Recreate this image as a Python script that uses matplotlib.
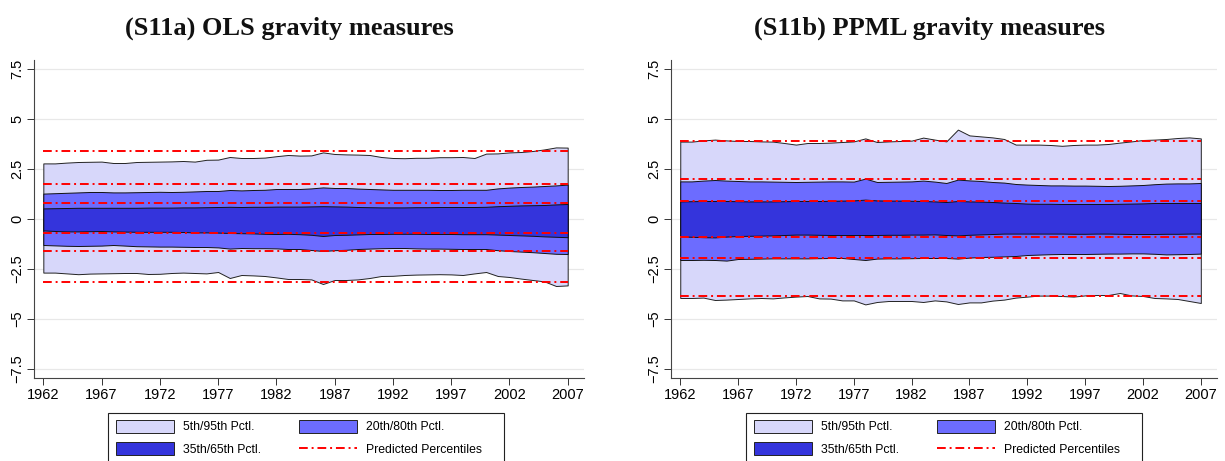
import matplotlib
matplotlib.use('Agg')
import matplotlib.pyplot as plt
from matplotlib.patches import Patch, Rectangle
from matplotlib.lines import Line2D

years = list(range(1962, 2008))

# OLS gravity measures: percentile boundaries
ols_p95 = [2.78, 2.78, 2.82, 2.85, 2.86, 2.87, 2.80, 2.80, 2.85, 2.86,
           2.87, 2.88, 2.90, 2.87, 2.96, 2.97, 3.10, 3.05, 3.05, 3.07,
           3.14, 3.20, 3.17, 3.18, 3.33, 3.25, 3.23, 3.22, 3.20, 3.10,
           3.05, 3.04, 3.06, 3.06, 3.09, 3.09, 3.10, 3.05, 3.27, 3.28,
           3.33, 3.35, 3.40, 3.48, 3.58, 3.57]
ols_p80 = [1.27, 1.29, 1.31, 1.33, 1.35, 1.35, 1.33, 1.33, 1.34, 1.35,
           1.36, 1.35, 1.36, 1.38, 1.40, 1.40, 1.45, 1.43, 1.45, 1.46,
           1.50, 1.50, 1.50, 1.53, 1.58, 1.55, 1.55, 1.52, 1.50, 1.48,
           1.46, 1.46, 1.46, 1.46, 1.45, 1.45, 1.46, 1.46, 1.46, 1.53,
           1.57, 1.60, 1.62, 1.65, 1.68, 1.72]
ols_p65 = [0.53, 0.54, 0.55, 0.56, 0.56, 0.56, 0.56, 0.56, 0.56, 0.57,
           0.57, 0.57, 0.58, 0.58, 0.59, 0.60, 0.61, 0.60, 0.61, 0.61,
           0.62, 0.62, 0.62, 0.63, 0.64, 0.63, 0.62, 0.60, 0.59, 0.58,
           0.58, 0.58, 0.59, 0.59, 0.60, 0.60, 0.60, 0.60, 0.61, 0.64,
           0.66, 0.68, 0.69, 0.70, 0.73, 0.75]
ols_p35 = [-0.57, -0.60, -0.62, -0.62, -0.61, -0.60, -0.62, -0.63, -0.64, -0.64,
           -0.64, -0.64, -0.65, -0.67, -0.67, -0.68, -0.70, -0.71, -0.72, -0.74,
           -0.75, -0.74, -0.76, -0.79, -0.85, -0.80, -0.79, -0.77, -0.75, -0.75,
           -0.74, -0.74, -0.74, -0.75, -0.75, -0.75, -0.76, -0.76, -0.76, -0.78,
           -0.80, -0.82, -0.84, -0.87, -0.89, -0.91]
ols_p20 = [-1.30, -1.32, -1.34, -1.35, -1.34, -1.33, -1.30, -1.33, -1.36, -1.37,
           -1.38, -1.38, -1.39, -1.40, -1.40, -1.42, -1.48, -1.45, -1.46, -1.46,
           -1.47, -1.50, -1.50, -1.55, -1.60, -1.56, -1.54, -1.50, -1.48, -1.46,
           -1.45, -1.45, -1.47, -1.48, -1.48, -1.49, -1.50, -1.50, -1.50, -1.56,
           -1.60, -1.63, -1.66, -1.70, -1.74, -1.75]
ols_p5 = [-2.68, -2.68, -2.72, -2.76, -2.73, -2.72, -2.71, -2.70, -2.70, -2.75,
          -2.74, -2.70, -2.68, -2.70, -2.72, -2.65, -2.95, -2.80, -2.82, -2.85,
          -2.92, -3.00, -3.00, -3.02, -3.25, -3.05, -3.05, -3.02, -2.95, -2.85,
          -2.84, -2.80, -2.78, -2.77, -2.76, -2.77, -2.80, -2.72, -2.65, -2.85,
          -2.90, -2.98, -3.05, -3.12, -3.35, -3.32]
ols_pred = [3.38, 1.73, 0.82, -0.72, -1.60, -3.13]

# PPML gravity measures: percentile boundaries
ppml_p95 = [3.87, 3.87, 3.93, 3.97, 3.93, 3.90, 3.90, 3.88, 3.87, 3.80,
            3.72, 3.80, 3.80, 3.82, 3.85, 3.88, 4.03, 3.85, 3.88, 3.90,
            3.92, 4.07, 3.97, 3.88, 4.47, 4.18, 4.13, 4.08, 4.00, 3.72,
            3.72, 3.72, 3.70, 3.66, 3.70, 3.72, 3.72, 3.75, 3.82, 3.88,
            3.95, 3.97, 4.00, 4.05, 4.08, 4.03]
ppml_p80 = [1.88, 1.88, 1.92, 1.95, 1.92, 1.90, 1.88, 1.88, 1.87, 1.86,
            1.85, 1.86, 1.87, 1.88, 1.88, 1.87, 2.02, 1.85, 1.86, 1.87,
            1.88, 1.92, 1.87, 1.80, 1.97, 1.93, 1.90, 1.85, 1.82, 1.75,
            1.72, 1.70, 1.68, 1.68, 1.67, 1.67, 1.66, 1.65, 1.66, 1.68,
            1.70, 1.74, 1.77, 1.78, 1.78, 1.80]
ppml_p65 = [0.88, 0.89, 0.90, 0.90, 0.90, 0.89, 0.88, 0.88, 0.88, 0.89,
            0.90, 0.90, 0.90, 0.91, 0.92, 0.93, 0.97, 0.93, 0.92, 0.92,
            0.91, 0.90, 0.88, 0.85, 0.90, 0.88, 0.87, 0.85, 0.82, 0.80,
            0.77, 0.76, 0.76, 0.75, 0.75, 0.75, 0.75, 0.75, 0.76, 0.77,
            0.78, 0.80, 0.80, 0.80, 0.80, 0.80]
ppml_p35 = [-0.87, -0.89, -0.91, -0.92, -0.88, -0.85, -0.84, -0.83, -0.82, -0.80,
            -0.78, -0.78, -0.79, -0.80, -0.80, -0.80, -0.80, -0.80, -0.79, -0.79,
            -0.78, -0.78, -0.77, -0.80, -0.82, -0.79, -0.77, -0.75, -0.73, -0.73,
            -0.73, -0.73, -0.73, -0.73, -0.74, -0.74, -0.73, -0.73, -0.74, -0.75,
            -0.75, -0.75, -0.74, -0.74, -0.73, -0.73]
ppml_p20 = [-2.05, -2.05, -2.04, -2.05, -2.08, -2.00, -1.99, -1.98, -1.97, -1.97,
            -1.97, -1.97, -1.96, -1.95, -1.95, -2.00, -2.05, -1.98, -1.97, -1.97,
            -1.96, -1.95, -1.95, -1.95, -1.98, -1.93, -1.90, -1.89, -1.87, -1.85,
            -1.80, -1.78, -1.76, -1.75, -1.75, -1.75, -1.74, -1.73, -1.73, -1.72,
            -1.72, -1.74, -1.77, -1.76, -1.75, -1.73]
ppml_p5 = [-3.95, -3.95, -3.93, -4.05, -4.03, -4.00, -3.97, -3.95, -3.97, -3.92,
           -3.88, -3.85, -3.97, -3.98, -4.07, -4.07, -4.27, -4.15, -4.10, -4.10,
           -4.10, -4.15, -4.07, -4.12, -4.25, -4.17, -4.17, -4.08, -4.03, -3.93,
           -3.88, -3.83, -3.83, -3.85, -3.88, -3.82, -3.80, -3.80, -3.70, -3.82,
           -3.85, -3.95, -3.97, -4.00, -4.10, -4.20]
ppml_pred = [3.92, 2.00, 0.92, -0.90, -1.97, -3.83]

titles = ['(S11a) OLS gravity measures', '(S11b) PPML gravity measures']
x_ticks = list(range(1962, 2008, 5))
y_ticks = [-7.5, -5, -2.5, 0, 2.5, 5, 7.5]
y_labels = ['\u22127.5', '\u22125', '\u22122.5', '0', '2.5', '5', '7.5']
band_labels = ['5th/95th Pctl.', '20th/80th Pctl.', '35th/65th Pctl.', 'Predicted Percentiles']

C_LIGHT = '#D7D7FA'
C_MID = '#6C6CFF'
C_DARK = '#3434DC'
C_RED = '#FF0000'
RED_DASH = (4.5, 2.0, 1.0, 2.0)

plt.rcParams['font.family'] = ['Liberation Sans', 'DejaVu Sans']

fig = plt.figure(figsize=(12.25, 4.61), dpi=100)
W, H = 1225.0, 461.0
ax_boxes = [(34, 60, 584, 378), (671, 60, 1217, 378)]
title_x = [289, 930]
legend_left = [108, 746]

panels = [
    (ols_p95, ols_p80, ols_p65, ols_p35, ols_p20, ols_p5, ols_pred),
    (ppml_p95, ppml_p80, ppml_p65, ppml_p35, ppml_p20, ppml_p5, ppml_pred),
]

for i, (p95, p80, p65, p35, p20, p5, pred) in enumerate(panels):
    x0, y0, x1, y1 = ax_boxes[i]
    ax = fig.add_axes([x0 / W, 1 - y1 / H, (x1 - x0) / W, (y1 - y0) / H])
    ax.fill_between(years, p5, p95, facecolor=C_LIGHT, edgecolor='#222222', linewidth=0.7, zorder=2)
    ax.fill_between(years, p20, p80, facecolor=C_MID, edgecolor='#111111', linewidth=0.7, zorder=3)
    ax.fill_between(years, p35, p65, facecolor=C_DARK, edgecolor='#111111', linewidth=0.7, zorder=4)
    for v in pred:
        ax.plot([years[0], years[-1]], [v, v], color=C_RED, linewidth=1.4,
                dashes=RED_DASH, zorder=5)

    ax.set_xlim(1961.2, 2008.4)
    ax.set_ylim(-7.95, 7.95)
    ax.set_xticks(x_ticks)
    ax.set_xticklabels([str(t) for t in x_ticks], fontsize=10.5)
    ax.set_yticks(y_ticks)
    ax.set_yticklabels(y_labels, fontsize=10.5, rotation=90, va='center')
    ax.tick_params(axis='both', direction='out', length=5, width=0.7, color='#333333', pad=2)
    ax.grid(axis='y', color='#E8E8E8', linewidth=0.9, zorder=0)
    ax.set_axisbelow(True)
    for s in ['top', 'right']:
        ax.spines[s].set_visible(False)
    for s in ['left', 'bottom']:
        ax.spines[s].set_color('#444444')
        ax.spines[s].set_linewidth(0.8)

    fig.text(title_x[i] / W, 1 - 28 / H, titles[i], ha='center', va='center',
             fontsize=19, fontweight='bold', family='Liberation Serif', color='#111111')

    # legend box (drawn separately so its width matches)
    lx = legend_left[i]
    fig.patches.append(Rectangle((lx / W, 1 - 463 / H), 396 / W, 50 / H,
                                 transform=fig.transFigure, facecolor='white',
                                 edgecolor='#222222', linewidth=0.8, zorder=1))
    handles = [
        Patch(facecolor=C_LIGHT, edgecolor='#222222', linewidth=0.7),
        Patch(facecolor=C_DARK, edgecolor='#222222', linewidth=0.7),
        Patch(facecolor=C_MID, edgecolor='#222222', linewidth=0.7),
        Line2D([0], [0], color=C_RED, linewidth=1.4, dashes=RED_DASH),
    ]
    labels = [band_labels[0], band_labels[2], band_labels[1], band_labels[3]]
    leg = fig.legend(handles, labels, loc='upper left', ncol=2,
                     bbox_to_anchor=((lx + 8) / W, 1 - 420 / H),
                     fontsize=8.8, handlelength=4.75, handleheight=1.23,
                     columnspacing=3.1, handletextpad=0.74, labelspacing=0.72,
                     borderpad=0, borderaxespad=0, frameon=False)
    leg.set_zorder(2)

fig.savefig('out.png', dpi=100)
